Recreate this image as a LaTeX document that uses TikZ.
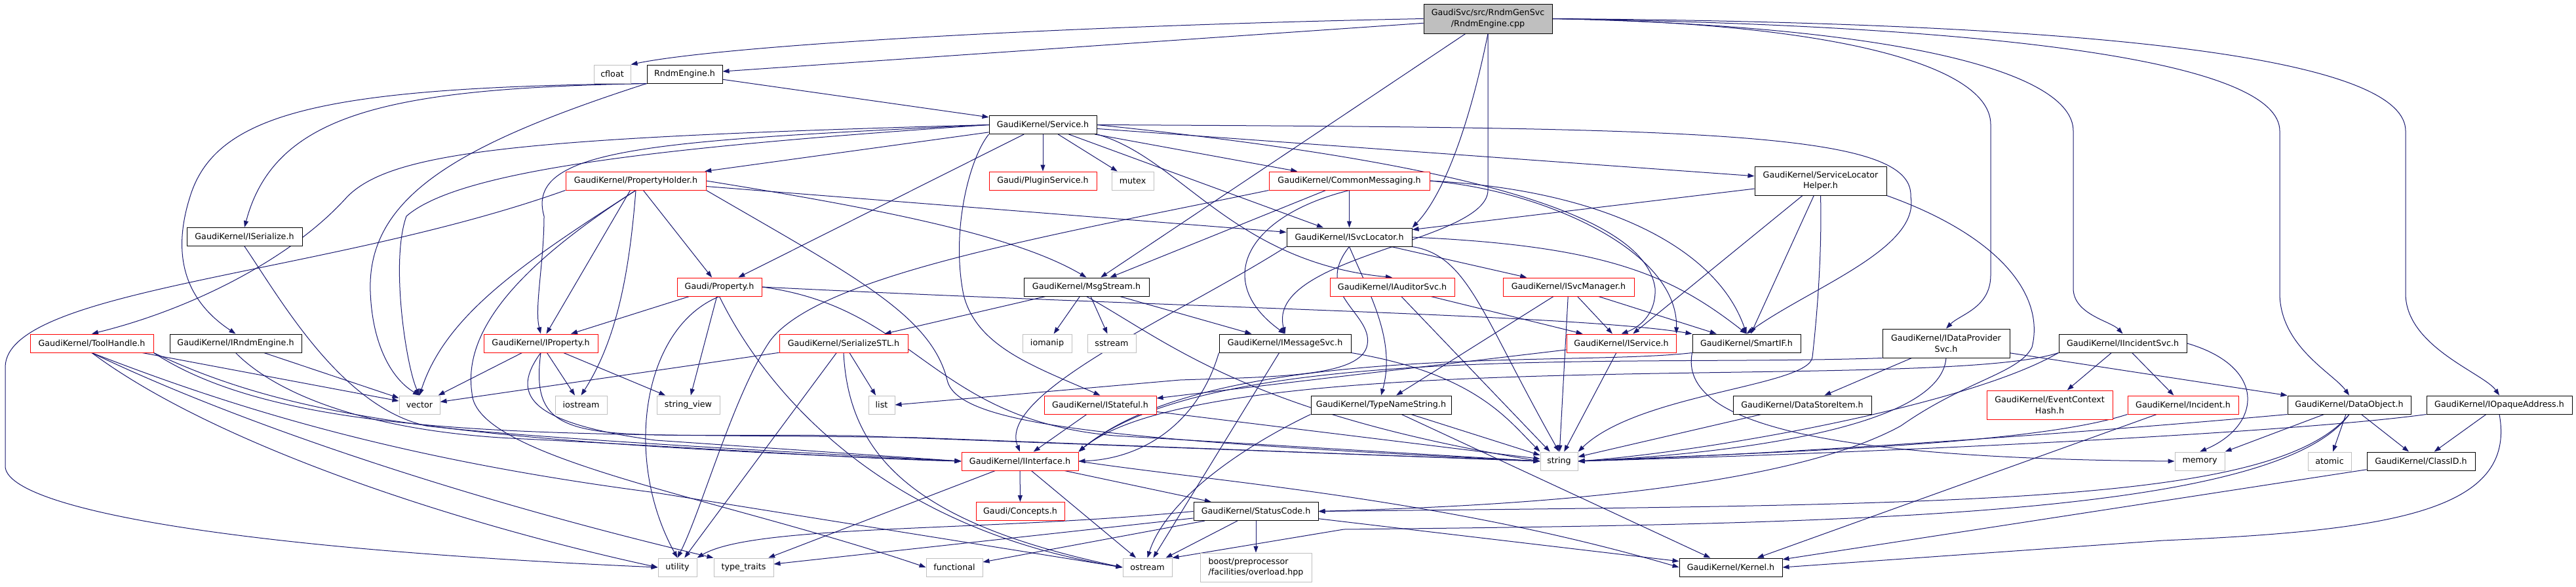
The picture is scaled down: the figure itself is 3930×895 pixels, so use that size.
\documentclass[tikz,border=0pt]{standalone}
\usepackage{fontspec}
\setmainfont{DejaVu Sans}
\usetikzlibrary{arrows.meta,backgrounds}
\definecolor{edgeblue}{HTML}{191970}
\definecolor{sysgray}{HTML}{BFBFBF}

\begin{document}
\begin{tikzpicture}[x=1pt,y=-1pt,
		font=\fontsize{12.7pt}{16.7pt}\selectfont,
		hdr/.style={draw=black,line width=1pt,fill=white,inner sep=0pt,align=center,minimum height=28pt},
		trunc/.style={hdr,draw=red},
		sys/.style={hdr,draw=sysgray},
		wd/.style={minimum width=#1pt},
		dep/.style={draw=edgeblue,line width=1pt,-{Triangle[length=10pt,width=7pt]}}]
	\useasboundingbox (0,0) rectangle (3930,895);

	\node[hdr,fill=sysgray,wd=196,minimum height=45pt] (root) at (2270,28.5) {GaudiSvc/src/RndmGenSvc\\/RndmEngine.cpp};
	\node[sys,wd=56] (cfloat) at (934,113) {cfloat};
	\node[hdr,wd=115] (rndmeng) at (1044.5,113) {RndmEngine.h};
	\node[hdr,wd=164] (service) at (1591,190.5) {GaudiKernel/Service.h};
	\node[trunc,wd=214] (propholder) at (970,276) {GaudiKernel/PropertyHolder.h};
	\node[trunc,wd=164] (plugin) at (1591,276) {Gaudi/PluginService.h};
	\node[sys,wd=64] (mutex) at (1728,276) {mutex};
	\node[trunc,wd=245] (commsg) at (2058.5,276) {GaudiKernel/CommonMessaging.h};
	\node[hdr,wd=201,minimum height=44pt] (slhelper) at (2777.5,276) {GaudiKernel/ServiceLocator\\Helper.h};
	\node[hdr,wd=176] (iserialize) at (373,361.5) {GaudiKernel/ISerialize.h};
	\node[hdr,wd=191] (isvcloc) at (2058.5,362) {GaudiKernel/ISvcLocator.h};
	\node[trunc,wd=129] (gprop) at (1097.5,438) {Gaudi/Property.h};
	\node[hdr,wd=191] (msgstream) at (1657.5,438) {GaudiKernel/MsgStream.h};
	\node[trunc,wd=190] (iauditor) at (2124,438) {GaudiKernel/IAuditorSvc.h};
	\node[trunc,wd=200] (isvcmgr) at (2393,438) {GaudiKernel/ISvcManager.h};
	\node[trunc,wd=188] (toolhandle) at (140,524) {GaudiKernel/ToolHandle.h};
	\node[hdr,wd=201] (irndm) at (359.5,524) {GaudiKernel/IRndmEngine.h};
	\node[trunc,wd=174] (iproperty) at (825,524) {GaudiKernel/IProperty.h};
	\node[trunc,wd=196] (serstl) at (1287,524) {GaudiKernel/SerializeSTL.h};
	\node[sys,wd=75] (iomanip) at (1597.5,524) {iomanip};
	\node[sys,wd=74] (sstream) at (1696,524) {sstream};
	\node[hdr,wd=201] (imsgsvc) at (1960.5,524) {GaudiKernel/IMessageSvc.h};
	\node[trunc,wd=167] (iservice) at (2473.5,524) {GaudiKernel/IService.h};
	\node[hdr,wd=165] (smartif) at (2664.5,524) {GaudiKernel/SmartIF.h};
	\node[hdr,wd=194,minimum height=44pt] (idataprov) at (2969,524) {GaudiKernel/IDataProvider\\Svc.h};
	\node[hdr,wd=195] (iincident) at (3238.5,524) {GaudiKernel/IIncidentSvc.h};
	\node[sys,wd=62] (vector) at (640,618) {vector};
	\node[sys,wd=79] (iostream) at (886.5,618) {iostream};
	\node[sys,wd=96] (stringview) at (1050,618) {string\_view};
	\node[sys,wd=40] (list) at (1345,618) {list};
	\node[trunc,wd=171] (istateful) at (1678.5,618) {GaudiKernel/IStateful.h};
	\node[hdr,wd=214] (typename) at (2107,618) {GaudiKernel/TypeNameString.h};
	\node[hdr,wd=211] (datastore) at (2749.5,618) {GaudiKernel/DataStoreItem.h};
	\node[trunc,wd=192,minimum height=44pt] (evtctx) at (3127,618) {GaudiKernel/EventContext\\Hash.h};
	\node[trunc,wd=169] (incident) at (3330.5,618) {GaudiKernel/Incident.h};
	\node[hdr,wd=188] (dataobj) at (3584,618) {GaudiKernel/DataObject.h};
	\node[hdr,wd=222] (iopaque) at (3813,618) {GaudiKernel/IOpaqueAddress.h};
	\node[trunc,wd=178] (iinterface) at (1556,704) {GaudiKernel/IInterface.h};
	\node[sys,wd=57] (string) at (2378.5,704) {string};
	\node[sys,wd=76] (memory) at (3356,704) {memory};
	\node[sys,wd=66] (atomic) at (3554,704) {atomic};
	\node[hdr,wd=165] (classid) at (3693.5,704) {GaudiKernel/ClassID.h};
	\node[trunc,wd=135] (concepts) at (1556.5,780.5) {Gaudi/Concepts.h};
	\node[hdr,wd=190] (statuscode) at (1916,780.5) {GaudiKernel/StatusCode.h};
	\node[sys,wd=59] (utility) at (1033.5,866) {utility};
	\node[sys,wd=91] (typetraits) at (1134.5,866) {type\_traits};
	\node[sys,wd=86] (functional) at (1456,866) {functional};
	\node[sys,wd=75] (ostream) at (1750.5,866) {ostream};
	\node[sys,wd=170,minimum height=44pt,align=left] (boost) at (1916,866) {boost/preprocessor\\/facilities/overload.hpp};
	\node[hdr,wd=157] (kernel) at (2640.5,866) {GaudiKernel/Kernel.h};

	\begin{pgfonlayer}{background}
	\fill[white] (0,0) rectangle (3930,895);
	\foreach \src/\dst in {root/rndmeng, root/msgstream, rndmeng/service,
			service/propholder, service/gprop, service/plugin, service/mutex, service/commsg, service/isvcloc, service/slhelper,
			propholder/gprop, propholder/iproperty, propholder/isvcloc, commsg/isvcloc, commsg/msgstream,
			slhelper/isvcloc, slhelper/iservice, slhelper/smartif, isvcloc/isvcmgr, gprop/iproperty, gprop/stringview,
			msgstream/serstl, msgstream/iomanip, msgstream/sstream, msgstream/imsgsvc, iauditor/iservice, iauditor/string,
			isvcmgr/typename, isvcmgr/string, isvcmgr/iservice, isvcmgr/smartif, toolhandle/vector, irndm/vector,
			iproperty/vector, iproperty/iostream, iproperty/stringview, serstl/vector, serstl/utility, serstl/list,
			imsgsvc/ostream, iservice/istateful, iservice/string, idataprov/datastore, idataprov/dataobj,
			iincident/evtctx, iincident/incident, istateful/iinterface, istateful/string, typename/string, typename/kernel,
			datastore/string, incident/kernel, dataobj/memory, dataobj/atomic, dataobj/classid, iopaque/classid, classid/kernel,
			iinterface/concepts, iinterface/statuscode, iinterface/ostream, iinterface/typetraits,
			statuscode/typetraits, statuscode/functional, statuscode/ostream, statuscode/boost, statuscode/kernel}
		\draw[dep] (\src) -- (\dst);

	\draw[dep] (root.west) .. controls (1600,40) and (1100,70) .. (cfloat.north east);
	\draw[dep] (root.south) .. controls (2240,200) and (2200,300) .. (isvcloc.north east);
	\draw[dep] (root.south) -- (2270,290) .. controls (2270,370) and (1930,390) .. (imsgsvc.north);
	\draw[dep] (root.east) .. controls (2800,35) and (3037,100) .. (3037,190) -- (3037,420) .. controls (3037,470) and (2990,480) .. (idataprov.north);
	\draw[dep] (root.east) .. controls (2900,40) and (3163,110) .. (3163,200) -- (3163,440) .. controls (3163,480) and (3220,490) .. (iincident.north);
	\draw[dep] (root.east) .. controls (3100,40) and (3478,100) .. (3478,200) -- (3478,450) .. controls (3480,530) and (3560,570) .. (dataobj.north);
	\draw[dep] (root.east) .. controls (3300,35) and (3670,100) .. (3670,200) -- (3670,450) .. controls (3672,530) and (3790,570) .. (iopaque.north);

	\draw[dep] (rndmeng.south west) .. controls (600,135) and (420,170) .. (iserialize.north);
	\draw[dep] (rndmeng.south west) .. controls (500,133) and (330,170) .. (290,300) .. controls (255,410) and (300,470) .. (irndm.north);
	\draw[dep] (rndmeng.south west) .. controls (700,220) and (560,300) .. (565,445) .. controls (568,530) and (600,580) .. (vector.north);

	\draw[dep] (service.west) .. controls (800,210) and (600,230) .. (530,300) .. controls (450,390) and (300,470) .. (toolhandle.north);
	\draw[dep] (service.west) .. controls (1000,215) and (800,225) .. (830,330) .. controls (830,400) and (815,470) .. (iproperty.north);
	\draw[dep] (service.west) .. controls (1000,225) and (700,260) .. (620,330) .. controls (595,400) and (620,560) .. (vector.north);
	\draw[dep] (service.south west) .. controls (1480,240) and (1450,350) .. (1470,450) .. controls (1490,530) and (1580,560) .. (istateful.north);
	\draw[dep] (service.south east) .. controls (1800,240) and (1880,400) .. (iauditor.north);
	\draw[dep] (service.east) .. controls (2600,195) and (2920,200) .. (2915,300) .. controls (2930,380) and (2760,440) .. (smartif.north);
	\draw[dep] (service.east) .. controls (2250,250) and (2510,330) .. (2525,440) .. controls (2527,480) and (2500,500) .. (iservice.north);

	\draw[dep] (propholder.south west) .. controls (500,420) and (10,440) .. (8,560) -- (8,712) .. controls (10,770) and (300,835) .. (utility.west);
	\draw[dep] (propholder.south east) .. controls (1300,420) and (1420,480) .. (1445,580) .. controls (1460,650) and (1700,672) .. (string.west);
	\draw[dep] (propholder.south) .. controls (800,400) and (705,500) .. (720,600) .. controls (725,700) and (1100,760) .. (functional.west);
	\draw[dep] (propholder.south) .. controls (800,400) and (680,480) .. (vector.north);
	\draw[dep] (propholder.south) .. controls (960,420) and (940,520) .. (iostream.north);
	\draw[dep] (propholder.east) .. controls (1350,320) and (1550,360) .. (msgstream.north);

	\draw[dep] (commsg.east) .. controls (2350,290) and (2560,380) .. (iservice.north east);
	\draw[dep] (commsg.east) .. controls (2450,290) and (2620,380) .. (smartif.north);
	\draw[dep] (commsg.south) .. controls (1900,330) and (1850,430) .. (imsgsvc.north);
	\draw[dep] (commsg.south west) .. controls (1600,360) and (1250,420) .. (1175,520) .. controls (1120,600) and (1070,780) .. (utility.north);

	\draw[dep] (slhelper.south) .. controls (2780,400) and (2770,500) .. (2765,545) .. controls (2760,590) and (2500,600) .. (string.north east);
	\draw[dep] (slhelper.south east) .. controls (3050,360) and (3120,450) .. (3100,530) .. controls (3080,570) and (3000,580) .. (2900,650) .. controls (2700,760) and (2200,775) .. (statuscode.east);

	\draw[dep] (isvcloc.south west) .. controls (1800,480) and (1520,600) .. (iinterface.north);
	\draw[dep] (isvcloc.south) .. controls (2090,450) and (2130,520) .. (typename.north);
	\draw[dep] (isvcloc.south) .. controls (2000,450) and (2100,480) .. (2085,530) .. controls (2070,575) and (1950,575) .. (1800,580) -- (list.east);
	\draw[dep] (isvcloc.south east) .. controls (2240,390) and (2260,480) .. (string.north);
	\draw[dep] (isvcloc.east) .. controls (2450,375) and (2550,420) .. (smartif.north);

	\draw[dep] (gprop.south) .. controls (980,500) and (950,700) .. (utility.north);
	\draw[dep] (gprop.south) .. controls (1150,560) and (1310,800) .. (ostream.west);
	\draw[dep] (gprop.east) .. controls (1800,470) and (2400,480) .. (smartif.north west);
	\draw[dep] (gprop.east) .. controls (1400,470) and (1420,640) .. (1700,665) -- (string.west);

	\draw[dep] (msgstream.south) .. controls (1780,520) and (1900,630) .. (string.west);
	\draw[dep] (imsgsvc.south west) .. controls (1830,640) and (1750,700) .. (iinterface.east);
	\draw[dep] (imsgsvc.south east) .. controls (2250,570) and (2300,640) .. (string.north west);

	\draw[dep] (toolhandle.south east) .. controls (450,640) and (700,675) .. (iinterface.west);
	\draw[dep] (toolhandle.south east) .. controls (450,680) and (900,660) .. (1400,668) -- (string.west);
	\draw[dep] (toolhandle.south) .. controls (350,620) and (600,700) .. (1000,752) -- (ostream.west);
	\draw[dep] (toolhandle.south) .. controls (350,640) and (700,760) .. (typetraits.north west);
	\draw[dep] (toolhandle.south) .. controls (330,680) and (700,800) .. (utility.west);

	\draw[dep] (iserialize.south) .. controls (430,460) and (520,620) .. (650,650) .. controls (800,668) and (1200,690) .. (iinterface.west);
	\draw[dep] (irndm.south) .. controls (420,600) and (560,660) .. (800,670) .. controls (1100,685) and (1300,700) .. (iinterface.west);
	\draw[dep] (iproperty.south) .. controls (780,600) and (800,645) .. (1000,672) -- (iinterface.west);
	\draw[dep] (iproperty.south) .. controls (805,690) and (900,660) .. (1300,665) -- (string.west);
	\draw[dep] (serstl.south) .. controls (1295,700) and (1400,800) .. (ostream.west);

	\draw[dep] (smartif.south west) .. controls (2400,560) and (1850,520) .. (iinterface.north east);
	\draw[dep] (smartif.south west) .. controls (2560,650) and (2800,700) .. (memory.west);
	\draw[dep] (idataprov.south west) .. controls (2500,560) and (1850,520) .. (iinterface.north east);
	\draw[dep] (idataprov.south) .. controls (2960,660) and (2600,695) .. (string.east);
	\draw[dep] (iincident.south west) .. controls (2950,600) and (1850,520) .. (iinterface.north east);
	\draw[dep] (iincident.south west) .. controls (3000,620) and (2600,690) .. (string.east);
	\draw[dep] (iincident.east) .. controls (3460,560) and (3450,650) .. (memory.north);
	\draw[dep] (incident.south west) .. controls (3100,680) and (2700,690) .. (string.east);

	\draw[dep] (dataobj.south west) .. controls (3300,650) and (2800,690) .. (string.east);
	\draw[dep] (dataobj.south) .. controls (3470,770) and (3000,770) .. (statuscode.east);
	\draw[dep] (dataobj.south) .. controls (3470,790) and (2800,800) .. (2050,808) -- (ostream.north east);
	\draw[dep] (iopaque.south west) .. controls (3500,660) and (2900,690) .. (string.east);
	\draw[dep] (iopaque.south) .. controls (3840,780) and (3650,810) .. (3300,825) -- (kernel.east);

	\draw[dep] (typename.south west) .. controls (1900,680) and (1780,760) .. (ostream.north);
	\draw[dep] (iinterface.east) .. controls (1850,735) and (2200,760) .. (kernel.west);
	\draw[dep] (statuscode.west) .. controls (1500,812) and (1150,800) .. (utility.north east);
	\end{pgfonlayer}
\end{tikzpicture}
\end{document}
